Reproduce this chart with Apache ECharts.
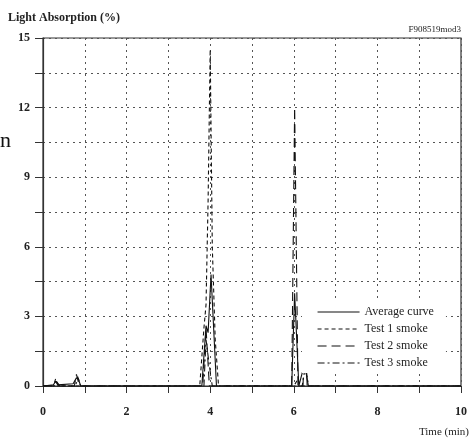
<!DOCTYPE html>
<html>
<head>
<meta charset="utf-8">
<script src="https://cdn.jsdelivr.net/npm/echarts@6/dist/echarts.min.js"></script>
<style>
html,body{margin:0;padding:0;background:#fff;}
#chart{width:473px;height:439px;}
</style>
</head>
<body>
<div id="chart"></div>
<script>
// Time (min), Light absorption (%)
const averageCurve = [[0,0],[0.25,0.05],[0.3,0.2],[0.35,0.05],[0.72,0.1],[0.8,0.35],[0.85,0.3],[0.9,0],[3.8,0],[3.9,2.6],[3.95,2.3],[4.02,4.8],[4.15,0],[5.95,0],[6.02,4.0],[6.12,0],[6.25,0.9],[6.3,0.5],[6.35,0],[10,0]];
const test1Smoke = [[0,0],[0.25,0],[0.3,0.3],[0.38,0],[3.75,0],[3.85,2.5],[3.9,3.5],[3.95,8],[4.0,14.5],[4.05,6],[4.12,2],[4.2,0],[6.0,0],[6.1,0.3],[6.15,0],[10,0]];
const test2Smoke = [[0,0],[0.75,0],[0.8,0.5],[0.87,0],[3.82,0],[3.9,2.5],[3.98,0],[5.95,0],[6.02,12],[6.1,0],[6.22,0],[6.27,2.6],[6.32,0],[10,0]];
const test3Smoke = [[0,0],[0.27,0],[0.32,0.2],[0.4,0],[0.78,0],[0.83,0.4],[0.9,0],[3.85,0],[3.9,2.0],[3.97,1.0],[4.05,0],[6.2,0],[6.28,0.9],[6.35,0],[10,0]];
const seriesNames = ['Average curve','Test 1 smoke','Test 2 smoke','Test 3 smoke'];
const xTicks = [0,2,4,6,8,10];
const yTicks = [0,3,6,9,12,15];

const serif = 'Liberation Serif';
const chart = echarts.init(document.getElementById('chart'));
const dashes = ['solid',[4,3],[9,5],[7,3,2,3]];
const datas = [averageCurve,test1Smoke,test2Smoke,test3Smoke];
chart.setOption({
  animation:false,
  backgroundColor:'#fff',
  grid:{left:43,right:12,top:38,bottom:53,show:true,borderColor:'#333',borderWidth:1.2,backgroundColor:'transparent'},
  xAxis:{type:'value',min:0,max:10,interval:1,
    axisLine:{lineStyle:{color:'#333',width:1.2}},
    axisTick:{show:true,length:7,lineStyle:{color:'#333'}},
    axisLabel:{margin:20,fontFamily:serif,fontWeight:'bold',fontSize:12,color:'#222',
      formatter:v=>xTicks.includes(v)?String(v):''},
    splitLine:{show:true,lineStyle:{type:[2,4],color:'#555',width:1}}},
  yAxis:{type:'value',min:0,max:15,interval:1.5,
    axisLine:{show:true,lineStyle:{color:'#333',width:1.2}},
    axisTick:{show:true,length:8,lineStyle:{color:'#333'}},
    axisLabel:{margin:13,fontFamily:serif,fontWeight:'bold',fontSize:12,color:'#222',
      formatter:v=>yTicks.includes(v)?String(v):''},
    splitLine:{show:true,lineStyle:{type:[2,4],color:'#555',width:1}}},
  legend:{show:true,orient:'vertical',left:302,top:302,itemWidth:42,itemHeight:11,itemGap:5,
    padding:[4,12,4,15],backgroundColor:'#fff',
    itemStyle:{opacity:0},
    lineStyle:{width:1.1},
    textStyle:{fontFamily:serif,fontSize:12,color:'#222'},
    data:seriesNames},
  graphic:[
    {type:'text',left:8,top:12,style:{text:'Light Absorption (%)',font:'bold 12px "Liberation Serif"',fill:'#222'}},
    {type:'text',right:12,top:25,style:{text:'F908519mod3',font:'9px "Liberation Serif"',fill:'#222'}},
    {type:'text',right:4,top:427,style:{text:'Time (min)',font:'11px "Liberation Serif"',fill:'#222'}},
    {type:'text',left:0,top:130,style:{text:'n',font:'22px "Liberation Serif"',fill:'#111'}}
  ],
  series:seriesNames.map((n,i)=>({name:n,type:'line',data:datas[i],symbol:'none',
    lineStyle:{color:'#111',width:1.1,type:dashes[i]},itemStyle:{color:'#111'}}))
});
</script>
</body>
</html>
